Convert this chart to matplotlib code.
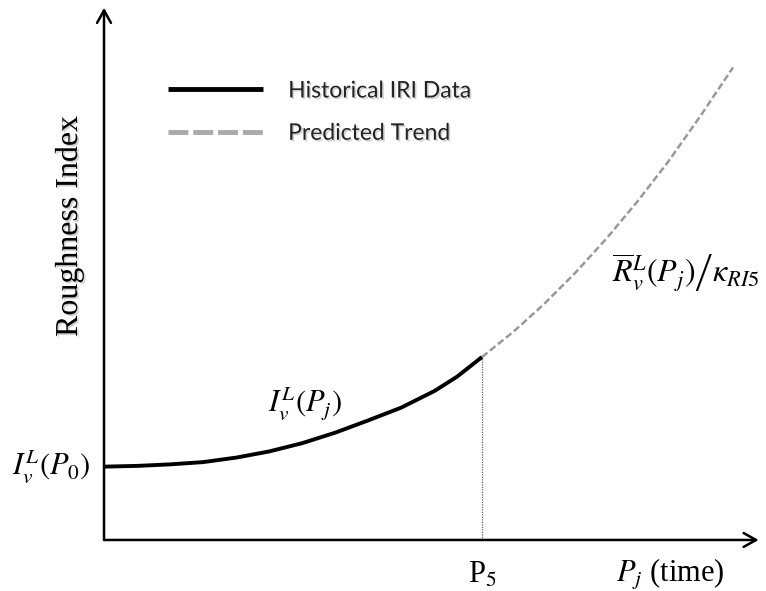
import matplotlib.pyplot as plt
import matplotlib.patheffects as pe
from matplotlib.lines import Line2D

plt.rcParams['mathtext.fontset'] = 'stix'

# observed roughness (periods 0..5) and the projected trend beyond P5
hist_t = [0.0, 0.44, 0.87, 1.31, 1.75, 2.18, 2.62, 3.06, 3.49, 3.93, 4.37, 4.67, 5.0]
hist_iri = [0.97, 0.98, 1.00, 1.03, 1.09, 1.17, 1.28, 1.42, 1.58, 1.75, 1.97, 2.16, 2.42]
pred_t = [5.0, 5.41, 5.82, 6.23, 6.64, 7.05, 7.46, 7.87, 8.32]
pred_iri = [2.42, 2.75, 3.12, 3.53, 3.98, 4.47, 5.00, 5.58, 6.25]
p5 = 5.0

legend_labels = ['Historical IRI Data', 'Predicted Trend']

fig = plt.figure(figsize=(7.66, 5.91), dpi=100)
ax = fig.add_axes([0, 0, 1, 1])
ax.set_xlim(-1.376, 8.757)
ax.set_ylim(-0.675, 7.143)
ax.axis('off')

# axes drawn as arrows from the origin
arrow = dict(arrowstyle='->,head_length=0.9,head_width=0.5', lw=1.8, color='black',
             shrinkA=0, shrinkB=0)
ax.annotate('', xy=(8.66, 0), xytext=(0, 0), arrowprops=arrow)
ax.annotate('', xy=(0, 7.04), xytext=(0, 0), arrowprops=arrow)

ax.plot(pred_t, pred_iri, color='#999999', lw=1.8, ls=(0, (2.8, 1.3)),
        solid_joinstyle='round')
ax.plot(hist_t, hist_iri, color='black', lw=2.8, solid_capstyle='butt',
        solid_joinstyle='round')
ax.plot([p5, p5], [0, hist_iri[-1]], color='#666666', lw=0.9, ls=(0, (1, 1)))

shadow = [pe.SimplePatchShadow(offset=(1.2, -1.2), alpha=0.18), pe.Normal()]

serif = 'Liberation Serif'
ax.text(-0.46, 4.15, 'Roughness Index', rotation=90, ha='center', va='center',
        family=serif, fontsize=23, path_effects=shadow)
ax.text(p5, -0.46, r'P$_5$', ha='center', va='center', family=serif, fontsize=22)
ax.text(7.49, -0.46, r'$P_j$ (time)', ha='center', va='center', family=serif, fontsize=22)

ax.text(-0.18, 0.97, r'$I_v^L(P_0)$', ha='right', va='center', fontsize=22)
ax.text(2.66, 1.81, r'$I_v^L(P_j)$', ha='center', va='center', fontsize=22)
ax.text(6.72, 3.53, r'$\left.\overline{R}_v^L(P_j)\right/\kappa_{RI5}$', ha='left',
        va='center', fontsize=23)

handles = [Line2D([], [], color='black', lw=3.5, solid_capstyle='butt'),
           Line2D([], [], color='#aaaaaa', lw=3.5, ls=(0, (4.1, 1.0)))]
leg = ax.legend(handles, legend_labels, loc='center left', bbox_to_anchor=(0.847, 5.66),
                bbox_transform=ax.transData, frameon=False, borderpad=0, borderaxespad=0,
                prop={'family': 'Lato', 'size': 16.5}, handlelength=4.15,
                handletextpad=1.09, labelspacing=0.93)
for t in leg.get_texts():
    t.set_color('#222222')
    t.set_path_effects(shadow)

fig.savefig('out.png', dpi=100)
